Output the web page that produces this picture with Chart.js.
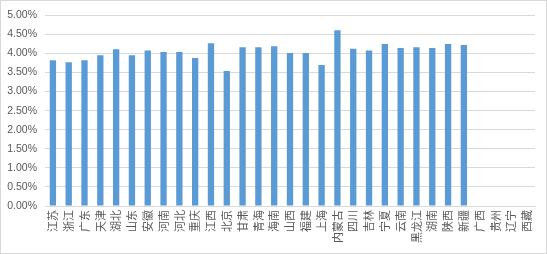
<!DOCTYPE html>
<html>
<head>
<meta charset="utf-8">
<script src="https://cdn.jsdelivr.net/npm/chart.js"></script>
<style>
  html, body { margin: 0; padding: 0; background: #fff; }
  #box { position: absolute; left: 0; top: 0; width: 545px; height: 252px; border: 1px solid #d9d9d9; }
  canvas { display: block; }
</style>
</head>
<body>
<div id="box"><canvas id="chart" width="545" height="252"></canvas></div>
<script>
// 省份（类目）
const provinces = ['江苏', '浙江', '广东', '天津', '湖北', '山东', '安徽', '河南', '河北', '重庆',
  '江西', '北京', '甘肃', '青海', '海南', '山西', '福建', '上海', '内蒙古', '四川',
  '吉林', '宁夏', '云南', '黑龙江', '湖南', '陕西', '新疆', '广西', '贵州', '辽宁', '西藏'];

// 数值（%），最后四个省无数据
const rates = [3.82, 3.77, 3.82, 3.95, 4.11, 3.95, 4.08, 4.04, 4.04, 3.88,
  4.27, 3.54, 4.16, 4.16, 4.19, 4.01, 4.01, 3.70, 4.61, 4.12,
  4.08, 4.25, 4.14, 4.16, 4.14, 4.25, 4.22, null, null, null, null];

// 纵轴范围
const yMin = 0;
const yMax = 5;
const yStep = 0.5;

const labelColor = '#595959';
const gridColor = '#d9d9d9';

new Chart(document.getElementById('chart'), {
  type: 'bar',
  data: {
    labels: provinces,
    datasets: [{
      data: rates,
      backgroundColor: '#5b9bd5',
      barPercentage: 0.4,
      categoryPercentage: 1.0
    }]
  },
  options: {
    responsive: false,
    animation: false,
    layout: { padding: { top: 13, right: 11, left: 0, bottom: 0 } },
    plugins: { legend: { display: false }, tooltip: { enabled: false } },
    scales: {
      x: {
        grid: { display: false, drawTicks: false },
        border: { color: gridColor },
        ticks: {
          color: labelColor,
          font: { family: '"Noto Sans CJK SC"', size: 11 },
          minRotation: 90,
          maxRotation: 90,
          autoSkip: false,
          padding: 4
        },
        afterFit: (scale) => { scale.height = 47; }
      },
      y: {
        min: yMin,
        max: yMax,
        grid: { color: gridColor, drawTicks: false },
        border: { display: false },
        ticks: {
          stepSize: yStep,
          color: labelColor,
          font: { family: '"Liberation Sans"', size: 10.5 },
          padding: 8,
          callback: (v) => v.toFixed(2) + '%'
        },
        afterFit: (scale) => { scale.width = 44; }
      }
    }
  }
});
</script>
</body>
</html>
